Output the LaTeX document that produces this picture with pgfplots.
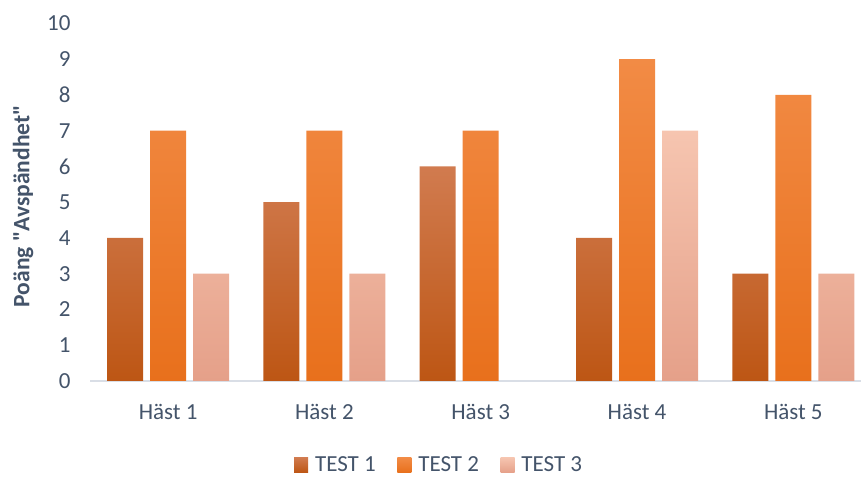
\documentclass[border=0pt]{standalone}
\usepackage{pgfplots}
\pgfplotsset{compat=1.18}
\usepackage{fontspec}
\setmainfont{Carlito}
\definecolor{txt}{HTML}{44546A}
\definecolor{axl}{HTML}{D9DEE6}
\definecolor{aTop}{HTML}{D17B4F}
\definecolor{aBot}{HTML}{BD5614}
\definecolor{bTop}{HTML}{F28B45}
\definecolor{bBot}{HTML}{E8701C}
\definecolor{cTop}{HTML}{F6C5B0}
\definecolor{cBot}{HTML}{E5A089}
\begin{document}
\begin{tikzpicture}
\path[use as bounding box] (0,0) rectangle (861bp,477bp);
\begin{axis}[
  at={(90bp,96bp)}, anchor=south west,
  scale only axis, width=771bp, height=357.5bp,
  xmin=-0.5, xmax=4.433, ymin=0, ymax=10,
  axis lines*=left,
  y axis line style={draw=none},
  x axis line style={draw=axl, line width=1.5bp, -},
  major tick length=0pt,
  xtick={0,1,2,3,4},
  xticklabels={Häst 1,Häst 2,Häst 3,Häst 4,Häst 5},
  ytick={0,1,...,10},
  /pgf/number format/assume math mode=true,
  tick label style={font=\fontsize{23bp}{27bp}\selectfont, text=txt},
  xticklabel style={anchor=north, yshift=-20bp},
  yticklabel style={anchor=east, xshift=-16bp},
  ylabel={\bfseries Poäng \textquotedbl Avspändhet\textquotedbl},
  ylabel style={font=\fontsize{23.5bp}{27bp}\selectfont, text=txt, at={(rel axis cs:0,0.5)}, anchor=center, rotate=0, yshift=67bp, xshift=-4bp},
  bar width=36bp,
  legend columns=3,
  legend style={at={(rel axis cs:0.4535,-0.235)}, anchor=center, draw=none, fill=none,
    font=\fontsize{23bp}{27bp}\selectfont, text=txt,
    /tikz/every odd column/.append style={column sep=4bp},
    /tikz/every even column/.append style={column sep=18.5bp},
    nodes={inner sep=3bp}},
]
\addplot[ybar, bar shift=-43bp, draw=none, top color=aTop, bottom color=aBot,
  legend image code/.code={\path[draw=none, top color=aTop, bottom color=aBot] (0bp,-7.5bp) rectangle (14bp,7.5bp);}]
  coordinates {(0,4) (1,5) (2,6) (3,4) (4,3)};
\addlegendentry{TEST 1}
\addplot[ybar, bar shift=0bp, draw=none, top color=bTop, bottom color=bBot,
  legend image code/.code={\path[draw=none, top color=bTop, bottom color=bBot] (0bp,-7.5bp) rectangle (14bp,7.5bp);}]
  coordinates {(0,7) (1,7) (2,7) (3,9) (4,8)};
\addlegendentry{TEST 2}
\addplot[ybar, bar shift=43bp, draw=none, top color=cTop, bottom color=cBot,
  legend image code/.code={\path[draw=none, top color=cTop, bottom color=cBot] (0bp,-7.5bp) rectangle (14bp,7.5bp);}]
  coordinates {(0,3) (1,3) (2,0) (3,7) (4,3)};
\addlegendentry{TEST 3}
\end{axis}
\end{tikzpicture}
\end{document}
